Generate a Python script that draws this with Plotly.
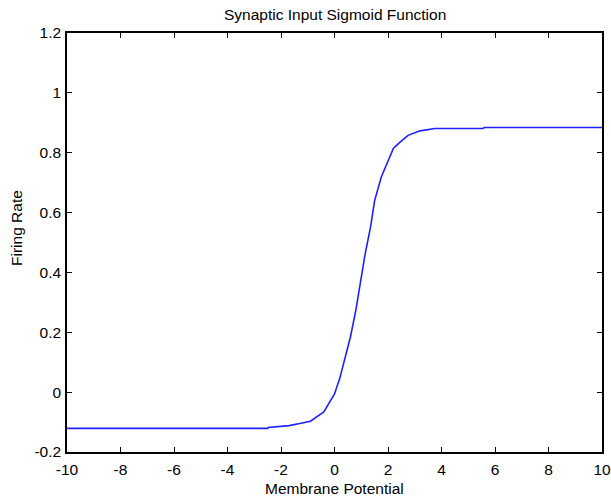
import plotly.graph_objects as go

membrane_potential = [-10, -2.5, -2.48, -1.7, -1.3, -0.9, -0.4, -0.15, 0.0, 0.2, 0.4, 0.6, 0.8,
                      0.95, 1.15, 1.35, 1.5, 1.75, 2.05, 2.2, 2.4, 2.75, 3.2, 3.75, 5.55, 5.6, 10]
firing_rate = [-0.121, -0.121, -0.118, -0.112, -0.105, -0.097, -0.066, -0.028, -0.006, 0.047, 0.119,
               0.186, 0.275, 0.355, 0.464, 0.553, 0.640, 0.719, 0.786, 0.814, 0.831, 0.858, 0.873,
               0.881, 0.881, 0.884, 0.884]

x_ticks = [-10, -8, -6, -4, -2, 0, 2, 4, 6, 8, 10]
x_tick_labels = ["-10", "-8", "-6", "-4", "-2", "0", "2", "4", "6", "8", "10"]
y_ticks = [-0.2, 0, 0.2, 0.4, 0.6, 0.8, 1.0, 1.2]
y_tick_labels = ["-0.2", "0", "0.2", "0.4", "0.6", "0.8", "1", "1.2"]

font = "Liberation Sans, Arial, Helvetica, sans-serif"
fs = 15.5

fig = go.Figure()
fig.add_trace(go.Scatter(x=membrane_potential, y=firing_rate, mode="lines",
                         line=dict(color="#2020ff", width=1.6), showlegend=False))

axis_common = dict(showgrid=False, zeroline=False, showline=True, linecolor="black", linewidth=1.5,
                   mirror="ticks", ticks="inside", ticklen=5, tickwidth=1.2, tickcolor="black",
                   automargin=False, tickfont=dict(family=font, size=fs, color="black"))

fig.update_xaxes(range=[-10, 10], tickvals=x_ticks, ticktext=x_tick_labels,
                 ticklabelstandoff=3, **axis_common)
fig.update_yaxes(range=[-0.2, 1.2], tickvals=y_ticks, ticktext=y_tick_labels,
                 ticklabelstandoff=1, **axis_common)

fig.update_layout(
    width=611, height=498, autosize=False,
    margin=dict(l=67, r=9, t=33, b=46, autoexpand=False),
    plot_bgcolor="white", paper_bgcolor="white",
    font=dict(family=font, size=fs, color="black"),
    annotations=[
        dict(text="Synaptic Input Sigmoid Function", x=0.5, y=1, xref="paper", yref="paper",
             xanchor="center", yanchor="bottom", yshift=8, showarrow=False,
             font=dict(family=font, size=fs, color="black")),
        dict(text="Membrane Potential", x=0.5, y=0, xref="paper", yref="paper",
             xanchor="center", yanchor="top", yshift=-26, showarrow=False,
             font=dict(family=font, size=fs, color="black")),
        dict(text="Firing Rate", x=0, y=0.5, xref="paper", yref="paper", textangle=-90,
             xanchor="right", yanchor="middle", xshift=-40, yshift=14, showarrow=False,
             font=dict(family=font, size=fs, color="black")),
    ],
)

fig.write_html(
    "out.html",
    config={"displayModeBar": False, "responsive": False},
    post_script="document.body.style.margin='0';document.documentElement.style.overflow='hidden';",
)
